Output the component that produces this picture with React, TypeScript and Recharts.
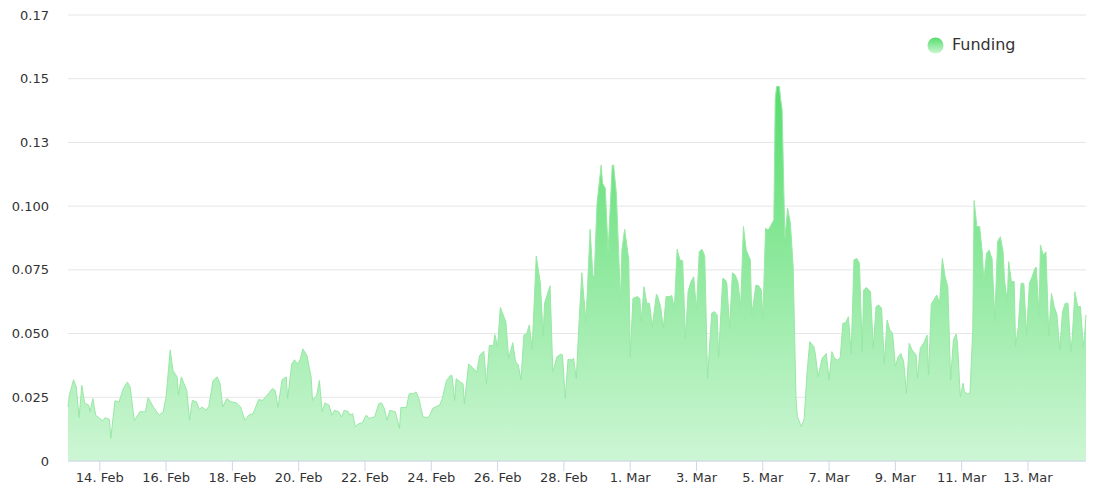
import React from 'react';
import { AreaChart, Area, XAxis, YAxis, CartesianGrid, Legend } from 'recharts';

// Start of the time axis: 13 Feb 2024 00:00 UTC; data times are hours after it.
const START_UTC = Date.UTC(2024, 1, 13, 0, 0, 0);

const hours = [
  1, 2, 5, 7, 9, 11, 13, 16, 17, 19,
  21, 24, 26, 28, 31, 32, 35, 38, 41, 44,
  46, 49, 53, 57, 59, 63, 67, 70, 72, 75,
  77, 80, 81, 83, 87, 89, 91, 94, 96, 98,
  101, 103, 106, 109, 111, 113, 116, 119, 123, 126,
  129, 132, 135, 139, 142, 146, 149, 151, 153, 156,
  159, 160, 163, 165, 167, 169, 171, 174, 177, 178,
  181, 183, 185, 187, 190, 192, 194, 197, 199, 201,
  204, 205, 207, 209, 211, 214, 217, 219, 223, 226,
  228, 230, 232, 234, 238, 241, 242, 246, 248, 251,
  253, 255, 258, 261, 263, 265, 268, 270, 272, 275,
  278, 279, 281, 282, 285, 287, 288, 291, 294, 297,
  299, 302, 304, 306, 309, 310, 312, 314, 317, 318,
  320, 323, 325, 327, 329, 331, 333, 335, 337, 340,
  343, 345, 346, 349, 350, 352, 355, 358, 359, 361,
  363, 366, 367, 369, 371, 373, 374, 376, 379, 381,
  382, 384, 387, 388, 390, 392, 395, 396, 398, 401,
  402, 404, 407, 408, 410, 413, 415, 416, 418, 420,
  422, 424, 427, 428, 430, 432, 434, 437, 438, 440,
  442, 444, 446, 448, 450, 452, 454, 456, 458, 460,
  462, 464, 467, 469, 471, 472, 475, 477, 478, 480,
  482, 484, 486, 488, 490, 492, 495, 496, 499, 501,
  503, 504, 506, 508, 510, 512, 513, 514, 516, 517,
  518, 520, 522, 524, 526, 528, 529, 531, 532, 534,
  536, 538, 541, 542, 544, 547, 548, 550, 552, 554,
  556, 558, 560, 562, 564, 566, 568, 570, 572, 574,
  576, 577, 579, 582, 584, 586, 588, 590, 592, 594,
  596, 598, 600, 602, 604, 606, 608, 610, 612, 615,
  616, 618, 621, 623, 624, 626, 627, 630, 632, 634,
  636, 638, 640, 642, 644, 645, 647, 649, 650, 652,
  654, 656, 657, 659, 661, 663, 664, 666, 668, 669,
  670, 672, 674, 676, 678, 679, 681, 682, 684, 686,
  687, 689, 691, 693, 695, 697, 699, 701, 702, 704,
  705, 707, 709, 710, 711, 713, 715, 717, 719, 721,
  723, 725, 727, 728, 730, 732, 734, 736, 737, 738,
];

const funding = [
  0.0212, 0.0258, 0.0319, 0.029, 0.017, 0.0297, 0.0228, 0.0219, 0.0193, 0.0245,
  0.018, 0.0167, 0.0158, 0.017, 0.0163, 0.0089, 0.0236, 0.0232, 0.0284, 0.031,
  0.029, 0.0158, 0.0193, 0.0193, 0.0249, 0.021, 0.018, 0.0193, 0.0251, 0.0436,
  0.0355, 0.033, 0.0258, 0.033, 0.0277, 0.016, 0.0238, 0.0232, 0.0202, 0.0212,
  0.0199, 0.0215, 0.0316, 0.033, 0.0306, 0.0212, 0.0245, 0.0232, 0.0228, 0.0212,
  0.016, 0.018, 0.0186, 0.0241, 0.0238, 0.0264, 0.0284, 0.0277, 0.021, 0.0319,
  0.033, 0.0245, 0.0381, 0.0397, 0.0381, 0.0397, 0.044, 0.0414, 0.033, 0.0238,
  0.0258, 0.0316, 0.0193, 0.0228, 0.0219, 0.018, 0.0199, 0.0193, 0.0173, 0.0199,
  0.0193, 0.018, 0.0186, 0.0134, 0.0145, 0.015, 0.018, 0.0167, 0.0173, 0.0225,
  0.0228, 0.0206, 0.016, 0.0199, 0.0193, 0.0128, 0.021, 0.021, 0.0264, 0.0264,
  0.0271, 0.0245, 0.0173, 0.017, 0.018, 0.0206, 0.0215, 0.0219, 0.0245, 0.0316,
  0.0336, 0.0336, 0.0238, 0.0323, 0.031, 0.0303, 0.0225, 0.0381, 0.0366, 0.0349,
  0.0414, 0.0431, 0.0303, 0.0453, 0.0453, 0.0496, 0.0449, 0.0603, 0.056, 0.0547,
  0.0403, 0.0464, 0.039, 0.0377, 0.0318, 0.0494, 0.0498, 0.0534, 0.0438, 0.0804,
  0.0697, 0.0488, 0.0619, 0.0671, 0.0687, 0.0351, 0.0409, 0.042, 0.0416, 0.0246,
  0.0399, 0.0396, 0.0403, 0.0324, 0.0547, 0.0739, 0.0671, 0.0547, 0.0909, 0.0726,
  0.0726, 0.1011, 0.1161, 0.109, 0.107, 0.0821, 0.1161, 0.1161, 0.105, 0.0625,
  0.0828, 0.0909, 0.0789, 0.0409, 0.0638, 0.0645, 0.0638, 0.0547, 0.0684, 0.0619,
  0.0619, 0.0527, 0.0655, 0.0645, 0.0606, 0.0521, 0.0645, 0.0645, 0.0651, 0.0599,
  0.0831, 0.0789, 0.0786, 0.0481, 0.0668, 0.0704, 0.0723, 0.0593, 0.0821, 0.0831,
  0.0804, 0.0324, 0.058, 0.0586, 0.0573, 0.0409, 0.0717, 0.071, 0.0697, 0.052,
  0.0739, 0.073, 0.0704, 0.0606, 0.092, 0.0828, 0.0789, 0.0573, 0.069, 0.0688,
  0.0671, 0.0553, 0.0913, 0.0906, 0.0926, 0.0946, 0.142, 0.147, 0.147, 0.1417,
  0.138, 0.0874, 0.0991, 0.0933, 0.0763, 0.0252, 0.0174, 0.0148, 0.0135, 0.0167,
  0.0344, 0.0468, 0.0449, 0.0422, 0.0331, 0.0403, 0.041, 0.0422, 0.0318, 0.0429,
  0.0403, 0.0396, 0.0403, 0.054, 0.0543, 0.0566, 0.0422, 0.0789, 0.0795, 0.0776,
  0.0429, 0.0671, 0.0681, 0.0664, 0.0442, 0.0606, 0.0612, 0.0599, 0.0383, 0.0553,
  0.0514, 0.0501, 0.037, 0.0409, 0.0422, 0.039, 0.0266, 0.0462, 0.0436, 0.0416,
  0.0324, 0.0442, 0.0468, 0.0494, 0.0337, 0.0616, 0.0625, 0.0651, 0.0619, 0.0795,
  0.0723, 0.0684, 0.0318, 0.0475, 0.0498, 0.0462, 0.0252, 0.0305, 0.0272, 0.0263,
  0.0266, 0.0514, 0.1022, 0.092, 0.092, 0.0815, 0.0704, 0.0815, 0.0828, 0.0808,
  0.0795, 0.0553, 0.0861, 0.088, 0.0821, 0.071, 0.0625, 0.0782, 0.0704, 0.0704,
  0.0449, 0.0527, 0.0697, 0.0697, 0.0494, 0.0697, 0.0723, 0.0756, 0.076, 0.0573,
  0.0848, 0.0808, 0.0821, 0.0664, 0.0491, 0.0658, 0.0606, 0.0573, 0.0436, 0.0586,
  0.0619, 0.0619, 0.0429, 0.0481, 0.0664, 0.0606, 0.0606, 0.0449, 0.0494, 0.0573,
];

const xTickDays = [
  '2024-02-14', '2024-02-16', '2024-02-18', '2024-02-20', '2024-02-22',
  '2024-02-24', '2024-02-26', '2024-02-28', '2024-03-01', '2024-03-03',
  '2024-03-05', '2024-03-07', '2024-03-09', '2024-03-11', '2024-03-13',
];
const monthNames = ['Jan', 'Feb', 'Mar', 'Apr', 'May', 'Jun', 'Jul', 'Aug', 'Sep', 'Oct', 'Nov', 'Dec'];

const yTicks = [0, 0.025, 0.05, 0.075, 0.1, 0.125, 0.15, 0.175];
const yTickLabels = ['0', '0.025', '0.050', '0.075', '0.100', '0.13', '0.15', '0.17'];

const seriesName = 'Funding';

const data = hours.map((h, i) => ({ t: START_UTC + h * 3600000, funding: funding[i] }));
const xTicks = xTickDays.map((d) => Date.parse(d + 'T00:00:00Z'));

const fmtX = (v: number) => {
  const d = new Date(v);
  return `${d.getUTCDate()}. ${monthNames[d.getUTCMonth()]}`;
};
const fmtY = (v: number) => {
  const idx = yTicks.findIndex((t) => Math.abs(t - v) < 1e-9);
  return idx >= 0 ? yTickLabels[idx] : String(v);
};

const FONT = "'DejaVu Sans', Verdana, sans-serif";

const LegendContent = () => (
  <div style={{ display: 'flex', alignItems: 'center', fontFamily: FONT, height: 18 }}>
    <svg width={17} height={17} style={{ display: 'block' }}>
      <defs>
        <linearGradient id="legendGrad" x1="0" y1="0" x2="0" y2="1">
          <stop offset="0%" stopColor="#55dd6c" />
          <stop offset="100%" stopColor="#cdf6d4" />
        </linearGradient>
      </defs>
      <circle cx={8.5} cy={8.5} r={8} fill="url(#legendGrad)" />
    </svg>
    <span style={{ marginLeft: 8, fontSize: 16, color: '#333333', lineHeight: '18px' }}>{seriesName}</span>
  </div>
);

export default function App() {
  return (
    <div style={{ position: 'absolute', left: 0, top: 0, width: 1100, height: 494, background: '#ffffff', fontFamily: FONT }}>
      <AreaChart
        width={1100}
        height={494}
        data={data}
        margin={{ top: 15, right: 14, bottom: 0, left: 0 }}
      >
        <defs>
          <linearGradient id="fundGrad" x1="0" y1="0" x2="0" y2="1">
            <stop offset="0%" stopColor="#55dd6c" stopOpacity={1} />
            <stop offset="100%" stopColor="#cdf6d4" stopOpacity={1} />
          </linearGradient>
        </defs>
        <CartesianGrid vertical={false} stroke="#e6e6e6" />
        <XAxis
          dataKey="t"
          type="number"
          domain={['dataMin', 'dataMax']}
          ticks={xTicks}
          interval={0}
          tickFormatter={fmtX}
          stroke="#ccd6eb"
          tickSize={10}
          tickMargin={2}
          height={33}
          tick={{ fill: '#333333', fontSize: 13, fontFamily: FONT }}
        />
        <YAxis
          type="number"
          domain={[0, 0.175]}
          ticks={yTicks}
          interval={0}
          tickFormatter={fmtY}
          axisLine={false}
          tickLine={false}
          tickSize={6}
          tickMargin={13}
          width={68}
          tick={{ fill: '#333333', fontSize: 13, fontFamily: FONT }}
        />
        <Legend
          layout="vertical"
          align="center"
          verticalAlign="middle"
          content={<LegendContent />}
          wrapperStyle={{ top: 36, left: 927, width: 120, height: 18 }}
        />
        <Area
          type="linear"
          dataKey="funding"
          name={seriesName}
          stroke="#98e8a5"
          strokeWidth={1}
          fill="url(#fundGrad)"
          fillOpacity={1}
          dot={false}
          activeDot={false}
          isAnimationActive={false}
        />
      </AreaChart>
    </div>
  );
}
